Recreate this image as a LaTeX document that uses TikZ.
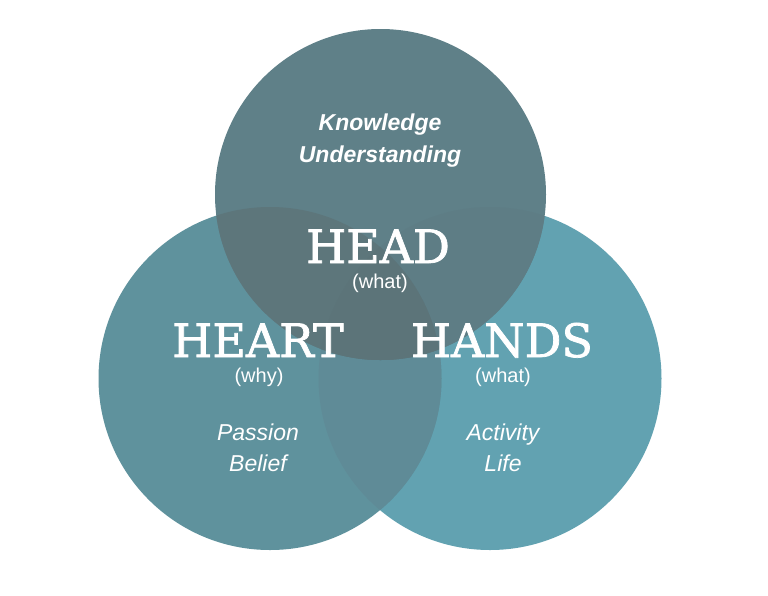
\documentclass[tikz,border=0pt]{standalone}
\usepackage{fontspec}
\newfontfamily\headfont[FakeBold=1.6]{DejaVu Serif}
\newfontfamily\subfont{Liberation Sans}
\definecolor{Tonly}{RGB}{95,128,136}
\definecolor{TRcol}{RGB}{94,125,133}
\definecolor{TLcol}{RGB}{93,118,123}
\definecolor{TLRcol}{RGB}{92,116,121}
\definecolor{Lonly}{RGB}{95,146,157}
\definecolor{Ronly}{RGB}{98,162,177}
\definecolor{LRcol}{RGB}{95,139,151}
\tikzset{
  big/.style={text=white, anchor=base, inner sep=0pt, font=\headfont\fontsize{46}{50}\selectfont},
  paren/.style={text=white, anchor=base, inner sep=0pt, font=\subfont\fontsize{20}{24}\selectfont},
  words/.style={text=white, anchor=base, inner sep=0pt, font=\subfont\itshape\fontsize{23}{27}\selectfont},
  boldwords/.style={text=white, anchor=base, inner sep=0pt, font=\subfont\bfseries\itshape\fontsize{23}{27}\selectfont},
}
\begin{document}
\begin{tikzpicture}[x=1pt,y=-1pt]
\useasboundingbox (0,0) rectangle (768,595);
\fill[white] (0,0) rectangle (768,595);
\coordinate (T) at (380.5,194.5);
\coordinate (L) at (270,378.5);
\coordinate (R) at (490,378.5);
\def\rT{165.5pt}
\def\rB{171.5pt}
% base circles
\fill[Ronly] (R) circle[radius=\rB];
\fill[Lonly] (L) circle[radius=\rB];
\fill[Tonly] (T) circle[radius=\rT];
% overlaps
\begin{scope}
  \clip (L) circle[radius=\rB];
  \fill[LRcol] (R) circle[radius=\rB];
\end{scope}
\begin{scope}
  \clip (T) circle[radius=\rT];
  \fill[TRcol] (R) circle[radius=\rB];
  \fill[TLcol] (L) circle[radius=\rB];
  \clip (L) circle[radius=\rB];
  \fill[TLRcol] (R) circle[radius=\rB];
\end{scope}
% texts
\node[boldwords] (know) at (380,130) {Knowledge};
\node[boldwords] (under) at (380,162) {Understanding};
\node[big] (head) at (378,263) {HEAD};
\node[paren] (headsub) at (380,288) {(what)};
\node[big] (heart) at (258,357) {HEART};
\node[paren] (heartsub) at (259,382) {(why)};
\node[big] (hands) at (502,357) {HANDS};
\node[paren] (handssub) at (503,382) {(what)};
\node[words] (passion) at (258,440) {Passion};
\node[words] (belief) at (258,471) {Belief};
\node[words] (activity) at (503,440) {Activity};
\node[words] (life) at (503,471) {Life};
\end{tikzpicture}
\end{document}
